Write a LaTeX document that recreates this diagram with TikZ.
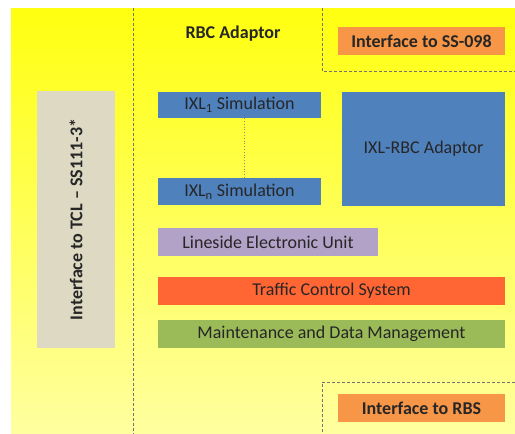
\documentclass[tikz,border=0pt]{standalone}
\usepackage{fontspec}
\setmainfont{Carlito}
\begin{document}
\begin{tikzpicture}[x=1pt,y=-1pt,
  box/.style={draw=none, inner sep=0pt, text=black!85, font=\fontsize{18}{20}\selectfont},
  bbox/.style={box, font=\bfseries\fontsize{18}{20}\selectfont},
  region/.style={draw=black!55, dashed, dash pattern=on 3pt off 2pt, line width=0.8pt}]
\definecolor{ixlblue}{HTML}{4F81BD}
\definecolor{ifor}{HTML}{F79646}
\definecolor{tcsred}{HTML}{FF6633}
\definecolor{mdmgreen}{HTML}{9BBB59}
\definecolor{leupurple}{HTML}{B3A2C7}
\definecolor{tclgray}{HTML}{DDD9C3}
\definecolor{ytop}{HTML}{FFFF10}
\definecolor{ybot}{HTML}{FFFFA0}
\useasboundingbox (0,0) rectangle (515,434);
\shade[top color=ytop, bottom color=ybot] (11,8) rectangle (515,434);
% region boundaries
\draw[region] (133,8) -- (133,434);
\draw[region] (322,8) -- (322,71) -- (515,71);
\draw[region] (515,382) -- (322,382) -- (322,434);
% nodes
\node[bbox] (rbc) at (233,34) {RBC Adaptor};
\node[bbox, fill=ifor, minimum width=167, minimum height=28] (ss098) at (421.5,41) {Interface to SS-098};
\node[box, fill=ixlblue, minimum width=163, minimum height=26] (ixl1) at (239.5,105) {IXL\textsubscript{1} Simulation};
\node[box, fill=ixlblue, minimum width=163, minimum height=27] (ixln) at (239.5,191.5) {IXL\textsubscript{n} Simulation};
\node[box, fill=ixlblue, minimum width=163, minimum height=114] (adapt) at (423.5,149) {IXL-RBC Adaptor};
\node[bbox, fill=tclgray, minimum width=257, minimum height=78, rotate=90] (tcl) at (76,219.5) {Interface to TCL -- SS111-3*};
\node[box, fill=leupurple, minimum width=220, minimum height=28] (leu) at (268,242) {Lineside Electronic Unit};
\node[box, fill=tcsred, minimum width=347, minimum height=28] (tcs) at (331.5,291) {Traffic Control System};
\node[box, fill=mdmgreen, minimum width=347, minimum height=28] (mdm) at (331.5,334) {Maintenance and Data Management};
\node[bbox, fill=ifor, minimum width=167, minimum height=28] (rbs) at (421.5,408) {Interface to RBS};
% dotted link
\draw[black!45, dotted, line width=0.8pt] ([xshift=5pt]ixl1.south) -- ([xshift=5pt]ixln.north);
\end{tikzpicture}
\end{document}
